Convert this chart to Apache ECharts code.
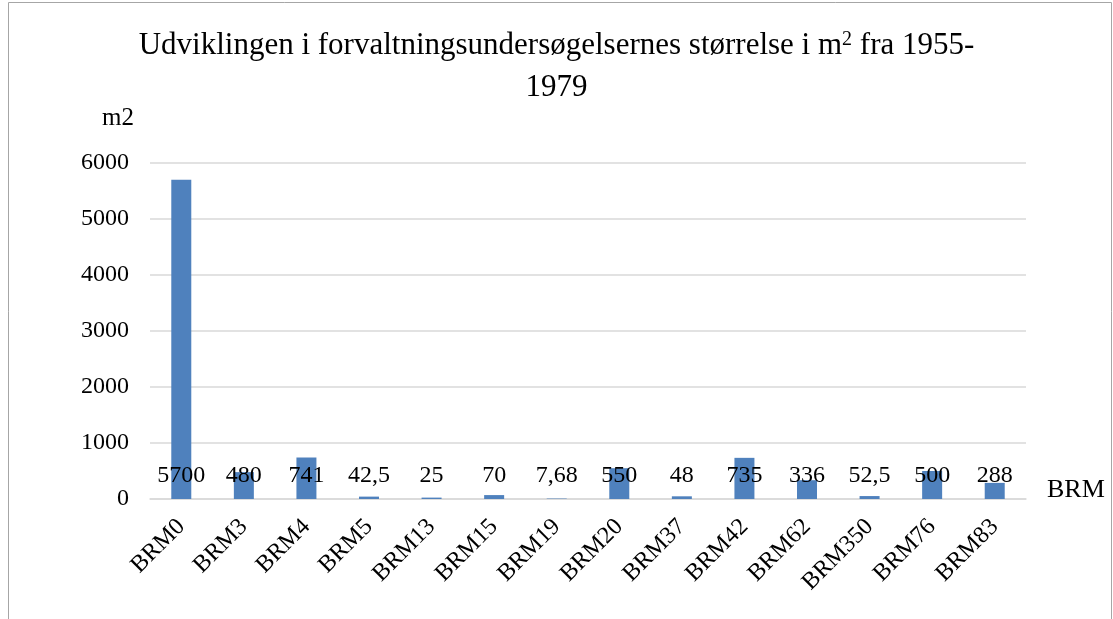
<!DOCTYPE html>
<html>
<head>
<meta charset="utf-8">
<script src="https://cdn.jsdelivr.net/npm/echarts@6/dist/echarts.min.js"></script>
<style>
  html, body { margin: 0; padding: 0; background: #fff; }
  #chart { width: 1113px; height: 619px; }
</style>
</head>
<body>
<div id="chart"></div>
<script>
// data
var categories = ['BRM0', 'BRM3', 'BRM4', 'BRM5', 'BRM13', 'BRM15', 'BRM19', 'BRM20', 'BRM37', 'BRM42', 'BRM62', 'BRM350', 'BRM76', 'BRM83'];
var areas = [5700, 480, 741, 42.5, 25, 70, 7.68, 550, 48, 735, 336, 52.5, 500, 288];
var yTicks = [0, 1000, 2000, 3000, 4000, 5000, 6000];

var serif = '"Liberation Serif", "DejaVu Serif", serif';
var chart = echarts.init(document.getElementById('chart'));

chart.setOption({
  animation: false,
  textStyle: { fontFamily: serif },
  title: {
    text: '{t|Udviklingen i forvaltningsundersøgelsernes størrelse i m}{sup|2}{t| fra 1955-}\n{t|1979}',
    left: 'center',
    top: 20,
    textStyle: {
      fontWeight: 'normal',
      rich: {
        t: { fontFamily: serif, fontSize: 31, fontWeight: 'normal', color: '#000', lineHeight: 42 },
        sup: { fontFamily: serif, fontSize: 20, fontWeight: 'normal', color: '#000', lineHeight: 42, padding: [0, 0, 12, 0] }
      }
    }
  },
  graphic: [{
    type: 'rect',
    shape: { x: 8.5, y: 2.5, width: 1103, height: 640 },
    style: { fill: 'none', stroke: '#a6a6a6', lineWidth: 1 },
    silent: true
  }],
  grid: { left: 150, right: 87, top: 163, bottom: 120 },
  xAxis: {
    type: 'category',
    data: categories,
    name: 'BRM',
    nameLocation: 'end',
    nameGap: 21,
    nameTextStyle: { fontFamily: serif, fontSize: 26, color: '#000', verticalAlign: 'top', padding: [-22, 0, 0, 0] },
    axisLine: { lineStyle: { color: '#d9d9d9', width: 1.5 } },
    axisTick: { show: false },
    axisLabel: { rotate: 45, margin: 24, fontFamily: serif, fontSize: 24, color: '#000', interval: 0 }
  },
  yAxis: {
    type: 'value',
    min: yTicks[0],
    max: yTicks[yTicks.length - 1],
    interval: 1000,
    name: 'm2',
    nameLocation: 'end',
    nameGap: 32,
    nameTextStyle: { fontFamily: serif, fontSize: 25, color: '#000', align: 'left', padding: [0, 0, 0, -48] },
    axisLine: { show: false },
    axisTick: { show: false },
    axisLabel: {
      margin: 21, fontFamily: serif, fontSize: 24, color: '#000',
      formatter: function (v) { return String(v); }
    },
    splitLine: { lineStyle: { color: '#d9d9d9', width: 1.5 } }
  },
  series: [{
    type: 'bar',
    data: areas,
    barWidth: 20,
    itemStyle: { color: '#4f81bd' },
    label: {
      show: true,
      position: 'insideBottom',
      distance: 11,
      fontFamily: serif,
      fontSize: 24,
      color: '#000',
      formatter: function (p) { return String(p.value).replace('.', ','); }
    }
  }]
});
</script>
</body>
</html>
